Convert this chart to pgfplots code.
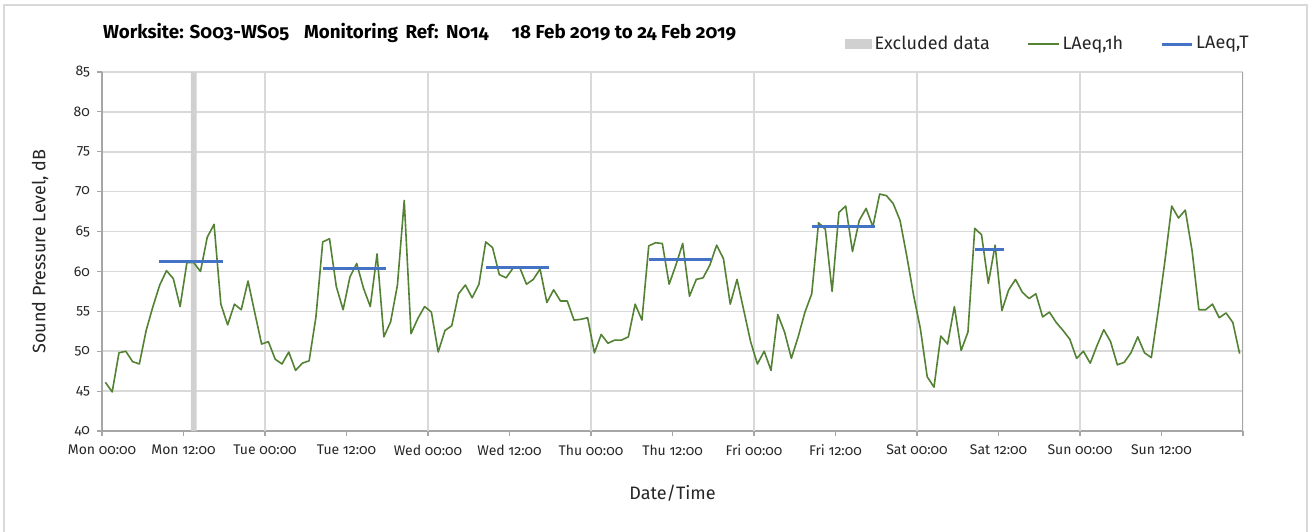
\documentclass[border=0pt]{standalone}
\usepackage{pgfplots}
\pgfplotsset{compat=1.18}
\usepackage{fontspec}
\setmainfont{Fira Sans}[Numbers=OldStyle]
\definecolor{gridgray}{HTML}{D9D9D9}
\definecolor{axgray}{HTML}{A6A6A6}
\definecolor{exclgray}{HTML}{D0D0D0}
\definecolor{lgreen}{HTML}{548235}
\definecolor{lblue}{HTML}{4472C4}
\definecolor{txt}{HTML}{262626}
\begin{document}
\begin{tikzpicture}
\useasboundingbox (0,0) rectangle (654.5pt,265.5pt);
\fill[white] (0,0) rectangle (654.5pt,265.5pt);
\draw[gridgray,line width=0.6pt] (2pt,-2pt) -- (2pt,263pt) -- (653.5pt,263pt) -- (653.5pt,-2pt);
\begin{axis}[
  at={(51pt,50pt)}, anchor=south west,
  scale only axis, width=570.5pt, height=179.5pt,
  xmin=0, xmax=168, ymin=40, ymax=85,
  axis x line*=bottom, axis y line*=left,
  axis line style={axgray,line width=0.6pt},
  xtick={0,12,...,168},
  xticklabels={Mon 00:00,Mon 12:00,Tue 00:00,Tue 12:00,Wed 00:00,Wed 12:00,Thu 00:00,Thu 12:00,Fri 00:00,Fri 12:00,Sat 00:00,Sat 12:00,Sun 00:00,Sun 12:00,{}},
  ytick={40,45,...,85},
  ymajorgrids, major grid style={gridgray,line width=0.75pt},
  extra x ticks={24,48,72,96,120,144},
  extra x tick labels={},
  extra x tick style={xmajorgrids=true, major tick length=0pt},
  tick align=outside, major tick length=2.5pt,
  tick style={axgray,line width=0.6pt},
  ticklabel style={font=\fontsize{7}{8}\selectfont, text=txt},
  xticklabel style={yshift=-1pt},
  /pgf/number format/assume math mode=true,
  xlabel={Date/Time}, ylabel={Sound Pressure Level, dB},
  xlabel style={at={(axis description cs:0.5,-0.1727)}, anchor=center, font=\fontsize{9}{11}\selectfont, text=txt},
  ylabel style={at={(axis description cs:-0.0543,0.5)}, anchor=center, font=\fontsize{9}{11}\selectfont, text=txt},
  title={\textbf{Worksite: S003-WS05\hspace{7.5pt}Monitoring\hspace{0.4em}Ref:\hspace{0.4em}N014\hspace{11.5pt}18 Feb 2019 to 24 Feb 2019}},
  title style={at={(axis description cs:0,1)}, anchor=base west, yshift=11pt, xshift=-3pt, font=\fontsize{9.4}{11}\selectfont, text=black},
  legend columns=3,
  legend style={at={(axis description cs:1.0079,1.078)}, anchor=east, draw=none, fill=none, inner sep=0pt,
    font=\fontsize{9}{11}\selectfont, text=txt,
    /tikz/every even column/.append style={column sep=17pt},
    nodes={inner sep=1.5pt}},
  clip=true,
]
\addplot[fill=exclgray, draw=none,
  legend image code/.code={\fill[exclgray] (0pt,-2.5pt) rectangle (13.5pt,2.5pt);}]
  coordinates {(13.1,40) (13.1,85) (13.95,85) (13.95,40)} \closedcycle;
\addlegendentry{Excluded data}
\addplot[lgreen, line width=0.8pt, line join=round,
  legend image code/.code={\draw[lgreen,line width=0.8pt] (0pt,0pt) -- (15.5pt,0pt);}]
  table[x expr=\thisrowno{0}+0.5, y index=1] {
0 46.1
1 44.9
2 49.8
3 50.0
4 48.7
5 48.4
6 52.6
7 55.6
8 58.3
9 60.1
10 59.1
11 55.6
12 61.1
13 61.1
14 60.0
15 64.3
16 65.9
17 55.9
18 53.3
19 55.9
20 55.2
21 58.8
22 54.8
23 50.9
24 51.2
25 49.0
26 48.4
27 49.9
28 47.6
29 48.5
30 48.8
31 54.3
32 63.7
33 64.1
34 58.1
35 55.2
36 59.3
37 61.0
38 57.9
39 55.6
40 62.2
41 51.8
42 53.7
43 58.3
44 68.9
45 52.2
46 54.1
47 55.6
48 54.9
49 49.9
50 52.6
51 53.2
52 57.2
53 58.3
54 56.7
55 58.4
56 63.7
57 63.0
58 59.6
59 59.2
60 60.4
61 60.5
62 58.4
63 59.0
64 60.3
65 56.1
66 57.7
67 56.3
68 56.3
69 53.9
70 54.0
71 54.2
72 49.8
73 52.1
74 51.0
75 51.4
76 51.4
77 51.8
78 55.9
79 53.9
80 63.2
81 63.6
82 63.5
83 58.4
84 60.8
85 63.5
86 56.9
87 59.0
88 59.2
89 60.8
90 63.3
91 61.6
92 55.9
93 59.0
94 55.1
95 51.2
96 48.4
97 50.0
98 47.6
99 54.6
100 52.4
101 49.1
102 51.8
103 54.9
104 57.2
105 66.1
106 65.3
107 57.5
108 67.4
109 68.2
110 62.5
111 66.4
112 67.9
113 65.6
114 69.7
115 69.5
116 68.5
117 66.4
118 61.9
119 57.0
120 52.8
121 46.8
122 45.5
123 51.9
124 50.9
125 55.6
126 50.1
127 52.4
128 65.4
129 64.6
130 58.5
131 63.3
132 55.1
133 57.7
134 59.0
135 57.4
136 56.6
137 57.2
138 54.3
139 54.9
140 53.6
141 52.6
142 51.5
143 49.1
144 50.0
145 48.5
146 50.7
147 52.7
148 51.2
149 48.3
150 48.6
151 49.8
152 51.8
153 49.8
154 49.2
155 55.0
156 61.3
157 68.2
158 66.7
159 67.7
160 62.6
161 55.2
162 55.2
163 55.9
164 54.2
165 54.8
166 53.6
167 49.7
};
\addlegendentry{LAeq,1h}
\addplot[lblue, line width=1.5pt, unbounded coords=jump,
  legend image code/.code={\draw[lblue,line width=1.5pt] (0pt,0pt) -- (15pt,0pt);}]
  coordinates {(8.4,61.3) (17.8,61.3) (20,nan)
               (32.6,60.4) (41.75,60.4) (45,nan)
               (56.5,60.5) (65.8,60.5) (70,nan)
               (80.5,61.5) (89.7,61.5) (95,nan)
               (104.5,65.6) (113.8,65.6) (118,nan)
               (128.5,62.7) (132.8,62.7)};
\addlegendentry{LAeq,T}
\draw[axgray,line width=0.6pt] (rel axis cs:1,0) -- (rel axis cs:1,1);
\end{axis}
\end{tikzpicture}
\end{document}
